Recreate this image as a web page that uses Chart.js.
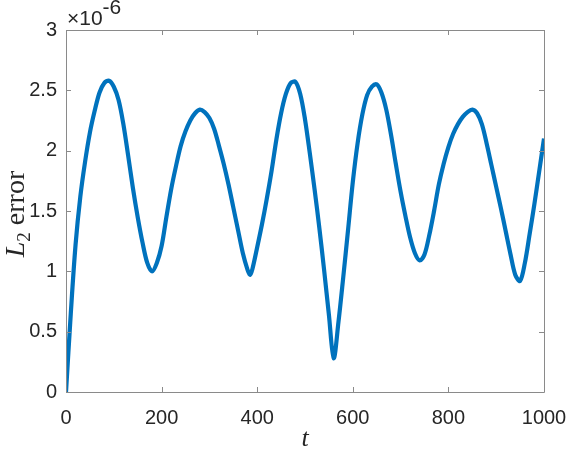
<!DOCTYPE html>
<html>
<head>
<meta charset="utf-8">
<script src="https://cdn.jsdelivr.net/npm/chart.js@4/dist/chart.umd.min.js"></script>
<style>
html,body{margin:0;padding:0;background:#fff;}
#wrap{width:567px;height:450px;position:relative;}
</style>
</head>
<body>
<div id="wrap"><canvas id="c" width="567" height="450"></canvas></div>
<script>
// time values t (read about every 10 units)
const tValues = [0,10,20,30,40,50,60,70,80,90,100,110,120,130,140,150,160,170,180,190,200,210,220,230,240,250,260,270,280,290,300,310,320,330,340,350,360,370,380,385,390,400,410,420,430,440,450,460,470,480,490,500,510,520,530,540,550,560,570,580,590,600,610,620,630,640,650,660,670,680,690,700,710,720,730,740,750,760,770,780,790,800,810,820,830,840,850,860,870,880,890,900,910,920,930,940,950,960,970,980,990,1000];
// L2 error values, in units of 1e-6
const errValues = [0,0.65,1.22,1.62,1.91,2.15,2.33,2.48,2.56,2.58,2.53,2.42,2.22,1.96,1.69,1.45,1.24,1.07,1.00,1.07,1.21,1.45,1.68,1.87,2.04,2.16,2.25,2.31,2.34,2.32,2.27,2.18,2.04,1.89,1.72,1.53,1.34,1.15,1.01,0.97,1.02,1.20,1.39,1.60,1.83,2.09,2.31,2.47,2.56,2.57,2.47,2.26,1.98,1.68,1.36,1.01,0.64,0.28,0.58,0.95,1.34,1.74,2.06,2.30,2.46,2.53,2.55,2.48,2.34,2.13,1.89,1.66,1.46,1.28,1.15,1.09,1.14,1.30,1.50,1.72,1.89,2.03,2.14,2.22,2.28,2.32,2.34,2.31,2.22,2.06,1.88,1.70,1.52,1.33,1.14,0.97,0.92,1.07,1.31,1.56,1.83,2.10];
const xTicks = [0,200,400,600,800,1000];
const yTicks = [0,0.5,1,1.5,2,2.5,3];
const yExponentLabel = ['\u00d710','-6'];
const xTitle = 't';
const yTitleParts = ['L','2',' error'];

const TXT = '#262626';
const AX = '#8a8a8a';
const points = tValues.map((t,i)=>({x:t,y:errValues[i]}));

const axesPlugin = {
  id:'matlabAxes',
  afterDraw(chart){
    const {ctx, chartArea:{left,right,top,bottom}, scales:{x,y}} = chart;
    ctx.save();
    ctx.strokeStyle = AX;
    ctx.lineWidth = 1;
    ctx.beginPath();
    ctx.rect(Math.round(left)+0.5, Math.round(top)+0.5, Math.round(right-left), Math.round(bottom-top));
    const tl = 5;
    x.ticks.forEach(tk=>{
      const px = Math.round(x.getPixelForValue(tk.value))+0.5;
      ctx.moveTo(px,bottom); ctx.lineTo(px,bottom-tl);
      ctx.moveTo(px,top); ctx.lineTo(px,top+tl);
    });
    y.ticks.forEach(tk=>{
      const py = Math.round(y.getPixelForValue(tk.value))+0.5;
      ctx.moveTo(left,py); ctx.lineTo(left+tl,py);
      ctx.moveTo(right,py); ctx.lineTo(right-tl,py);
    });
    ctx.stroke();

    // exponent label
    ctx.fillStyle = TXT;
    ctx.textBaseline = 'alphabetic';
    ctx.textAlign = 'left';
    ctx.font = '21px "Liberation Sans", Arial, sans-serif';
    ctx.fillText(yExponentLabel[0], left+1, 25);
    const w0 = ctx.measureText(yExponentLabel[0]).width;
    ctx.fillText(yExponentLabel[1], left+1+w0, 14);

    // x title
    ctx.font = 'italic 26px "Liberation Serif", "Times New Roman", serif';
    ctx.textAlign = 'center';
    ctx.fillText(xTitle, (left+right)/2, 446);

    // y title (rotated)
    ctx.save();
    ctx.translate(24, 214);
    ctx.rotate(-Math.PI/2);
    ctx.textAlign = 'left';
    const fL = 'italic 28px "Liberation Serif", "Times New Roman", serif';
    const fS = '19px "Liberation Serif", "Times New Roman", serif';
    const fE = '28px "Liberation Serif", "Times New Roman", serif';
    ctx.font = fL; const wL = ctx.measureText(yTitleParts[0]).width;
    ctx.font = fS; const wS = ctx.measureText(yTitleParts[1]).width;
    ctx.font = fE; const wE = ctx.measureText(yTitleParts[2]).width;
    let sx = -(wL+wS+wE)/2;
    ctx.font = fL; ctx.fillText(yTitleParts[0], sx, 0); sx += wL;
    ctx.font = fS; ctx.fillText(yTitleParts[1], sx, 6); sx += wS;
    ctx.font = fE; ctx.fillText(yTitleParts[2], sx, 0);
    ctx.restore();
    ctx.restore();
  }
};

new Chart(document.getElementById('c'), {
  type:'line',
  data:{datasets:[{
    data: points,
    borderColor:'#0072BD',
    borderWidth:4.2,
    pointRadius:0,
    tension:0.33,
    fill:false
  }]},
  options:{
    responsive:false,
    animation:false,
    events:[],
    layout:{padding:{left:0,top:30,right:23,bottom:0}},
    plugins:{legend:{display:false},tooltip:{enabled:false},title:{display:false}},
    scales:{
      x:{
        type:'linear', min:0, max:1000,
        grid:{display:false, drawTicks:false},
        border:{display:false},
        afterBuildTicks(s){ s.ticks = xTicks.map(v=>({value:v})); },
        ticks:{color:TXT, padding:14, maxRotation:0, autoSkip:false,
          font:{family:'"Liberation Sans", Arial, sans-serif', size:20},
          callback:(v)=>String(v)},
        afterFit(s){ s.height = 58; s.paddingLeft = 0; s.paddingRight = 0; }
      },
      y:{
        type:'linear', min:0, max:3,
        grid:{display:false, drawTicks:false},
        border:{display:false},
        afterBuildTicks(s){ s.ticks = yTicks.map(v=>({value:v})); },
        ticks:{color:TXT, padding:9, autoSkip:false,
          font:{family:'"Liberation Sans", Arial, sans-serif', size:20},
          callback:(v)=>String(v)},
        afterFit(s){ s.width = 66; s.paddingTop = 0; s.paddingBottom = 0; }
      }
    }
  },
  plugins:[axesPlugin]
});
</script>
</body>
</html>
